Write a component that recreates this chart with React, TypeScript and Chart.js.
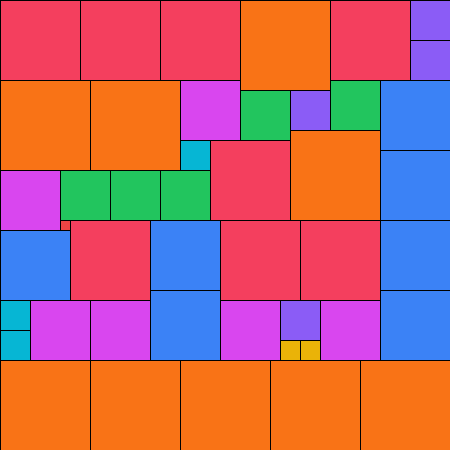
import React, { useEffect, useRef } from "react";
import { Chart, registerables } from "chart.js";

Chart.register(...registerables);

// Tile extents in data units (0..450 both ways, y grows downward)
const tileX0 = [0, 80, 160, 240, 330, 410, 410, 0, 90, 180, 240, 290, 330, 380, 180, 210, 290, 380, 0, 60, 110, 160, 60, 0, 70, 150, 220, 300, 380, 0, 0, 30, 90, 150, 220, 280, 280, 300, 320, 380, 0, 90, 180, 270, 360];
const tileY0 = [0, 0, 0, 0, 0, 0, 40, 80, 80, 80, 90, 90, 80, 80, 140, 140, 130, 150, 170, 170, 170, 170, 220, 230, 220, 220, 220, 220, 220, 300, 330, 300, 300, 290, 300, 300, 340, 340, 300, 290, 360, 360, 360, 360, 360];
const tileX1 = [80, 160, 240, 330, 410, 450, 450, 90, 180, 240, 290, 330, 380, 450, 210, 290, 380, 450, 60, 110, 160, 210, 70, 70, 150, 220, 300, 380, 450, 30, 30, 90, 150, 220, 280, 320, 300, 320, 380, 450, 90, 180, 270, 360, 450];
const tileY1 = [80, 80, 80, 90, 80, 40, 80, 170, 170, 140, 140, 130, 130, 150, 170, 220, 220, 220, 230, 220, 220, 220, 230, 300, 300, 290, 300, 300, 290, 330, 360, 360, 360, 360, 360, 340, 360, 360, 360, 360, 450, 450, 450, 450, 450];
// Category of each tile
const tileGroup = ["rose", "rose", "rose", "orange", "rose", "purple", "purple", "orange", "orange", "fuchsia", "green", "purple", "green", "blue", "cyan", "rose", "orange", "blue", "fuchsia", "green", "green", "green", "red", "blue", "rose", "blue", "rose", "rose", "blue", "cyan", "cyan", "fuchsia", "fuchsia", "blue", "fuchsia", "purple", "yellow", "yellow", "fuchsia", "blue", "orange", "orange", "orange", "orange", "orange"];

const groupColors: Record<string, string> = {
  rose: "#f43f5e",
  orange: "#f97316",
  purple: "#8b5cf6",
  fuchsia: "#d946ef",
  green: "#22c55e",
  blue: "#3b82f6",
  cyan: "#06b6d4",
  yellow: "#eab308",
  red: "#ef4444",
};

const tilePlugin = {
  id: "tiles",
  beforeDatasetsDraw(chart: any) {
    const { ctx, scales } = chart;
    const xs = scales.x;
    const ys = scales.y;
    ctx.save();
    for (let i = 0; i < tileX0.length; i++) {
      const px0 = Math.round(xs.getPixelForValue(tileX0[i]));
      const px1 = Math.round(xs.getPixelForValue(tileX1[i]));
      const py0 = Math.round(ys.getPixelForValue(tileY0[i]));
      const py1 = Math.round(ys.getPixelForValue(tileY1[i]));
      ctx.fillStyle = groupColors[tileGroup[i]];
      ctx.fillRect(px0, py0, px1 - px0, py1 - py0);
      ctx.strokeStyle = "#000000";
      ctx.lineWidth = 1;
      ctx.strokeRect(px0 + 0.5, py0 + 0.5, px1 - px0, py1 - py0);
    }
    ctx.restore();
  },
};

export default function App() {
  const ref = useRef<HTMLCanvasElement | null>(null);
  useEffect(() => {
    document.body.style.margin = "0";
    if (!ref.current) return;
    const chart = new Chart(ref.current, {
      type: "scatter",
      data: {
        datasets: [
          {
            label: "tiles",
            data: tileX0.map((x, i) => ({ x: (x + tileX1[i]) / 2, y: (tileY0[i] + tileY1[i]) / 2 })),
            pointRadius: 0,
            pointHoverRadius: 0,
          },
        ],
      },
      options: {
        responsive: false,
        animation: false,
        layout: { padding: 0 },
        plugins: { legend: { display: false }, tooltip: { enabled: false } },
        scales: {
          x: { type: "linear", min: 0, max: 450, display: false },
          y: { type: "linear", min: 0, max: 450, reverse: true, display: false },
        },
      },
      plugins: [tilePlugin],
    });
    return () => chart.destroy();
  }, []);
  return (
    <div style={{ width: 450, height: 450 }}>
      <canvas ref={ref} width={450} height={450} style={{ display: "block" }} />
    </div>
  );
}
